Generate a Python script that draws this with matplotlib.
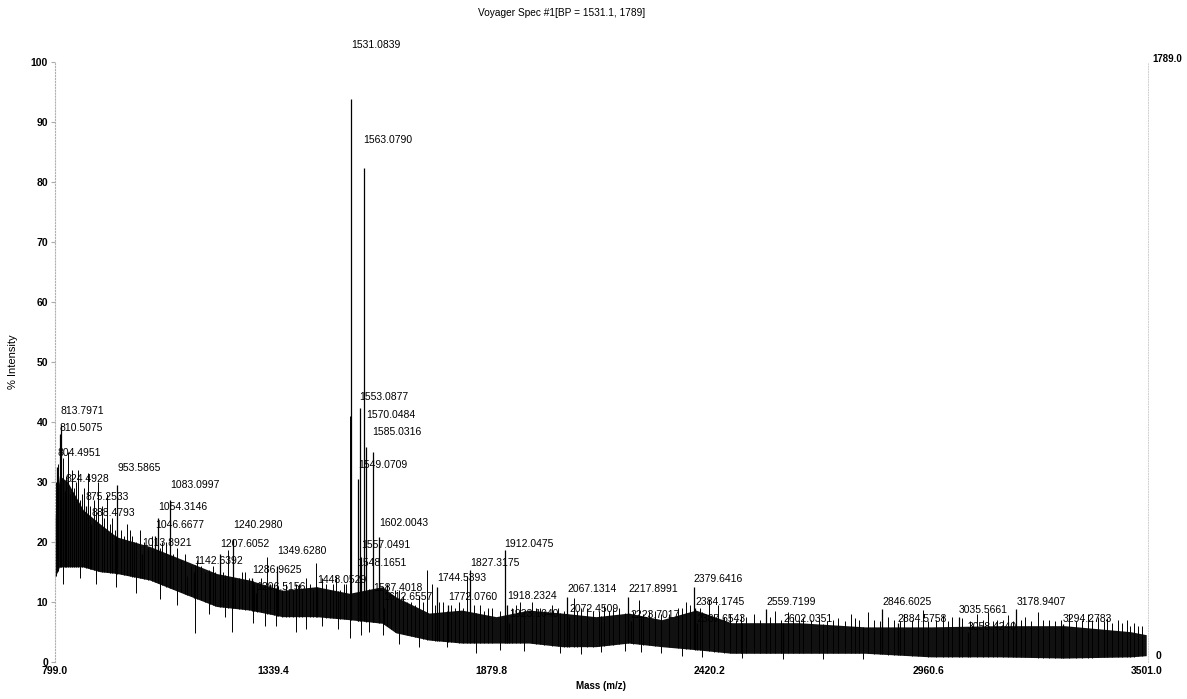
import numpy as np
import matplotlib.pyplot as plt

plt.rcParams['font.family'] = ['Liberation Sans Narrow', 'Liberation Sans', 'DejaVu Sans']

# labelled peaks: m/z, % intensity
peak_mz = [804.4951, 810.5075, 813.7971, 824.4928, 875.2533, 888.4793, 953.5865,
           1013.8921, 1046.6677, 1054.3146, 1083.0997, 1142.6392, 1207.6052,
           1240.2980, 1286.9625, 1296.5156, 1349.6280, 1448.0529, 1531.0839,
           1548.1651, 1549.0709, 1553.0877, 1557.0491, 1563.0790, 1570.0484,
           1585.0316, 1587.4018, 1602.0043, 1612.6557, 1744.5393, 1772.0760,
           1827.3175, 1912.0475, 1918.2324, 1923.1040, 2067.1314, 2072.4509,
           2217.8991, 2223.7017, 2379.6416, 2384.1745, 2387.6543, 2559.7199,
           2602.0351, 2846.6025, 2884.5758, 3035.5661, 3058.4240, 3178.9407,
           3294.2783]
peak_int = [32.5, 38.0, 39.5, 28.5, 26.0, 23.0, 29.5,
            18.0, 21.0, 24.0, 27.0, 15.0, 18.0,
            20.5, 14.0, 11.5, 16.0, 12.5, 93.8,
            14.5, 30.5, 42.3, 17.5, 82.3, 35.8,
            34.9, 10.5, 20.8, 9.0, 12.5, 9.5,
            15.3, 18.6, 9.5, 6.5, 10.8, 7.5,
            10.8, 6.8, 12.5, 9.0, 6.5, 8.8,
            6.3, 8.8, 6.4, 7.5, 5.0, 8.8,
            6.3]
# height of each peak label (stacked where peaks crowd)
label_y = [34.8, 39.0, 41.8, 30.5, 27.5, 24.8, 32.3,
           19.8, 22.7, 25.7, 29.4, 16.8, 19.6,
           22.7, 15.3, 12.5, 18.5, 13.6, 102.8,
           16.4, 32.8, 44.1, 19.5, 86.9, 41.1,
           38.3, 12.3, 23.1, 10.8, 13.9, 10.8,
           16.4, 19.6, 10.95, 7.9, 12.1, 8.8,
           12.1, 7.8, 13.8, 9.95, 7.1, 9.95,
           7.1, 9.95, 7.1, 8.6, 5.8, 9.95,
           7.1]

# unlabelled spikes above the noise
spike_mz = [801, 806, 819, 827, 831, 835, 840, 845, 850, 856, 860, 865, 872, 880,
            885, 895, 900, 905, 915, 920, 927, 935, 940, 948, 962, 970, 977, 985,
            990, 995, 1000, 1009, 1020, 1030, 1040, 1060, 1065, 1075, 1090, 1100,
            1110, 1120, 1125, 1135, 1150, 1160, 1170, 1182, 1190, 1195, 1215, 1227,
            1245, 1255, 1262, 1270, 1280, 1292, 1300, 1310, 1325, 1332, 1340, 1352,
            1360, 1370, 1379, 1387, 1395, 1402, 1410, 1420, 1430, 1438, 1446, 1460,
            1470, 1480, 1488, 1495, 1505, 1515, 1520, 1529.5, 1620, 1630, 1640, 1650,
            1660, 1670, 1680, 1690, 1700, 1710, 1720, 1733, 1740, 1750, 1760, 1780,
            1790, 1800, 1810, 1819, 1835, 1850, 1860, 1870, 1880, 1900, 1930, 1940,
            1950, 1980, 1990, 2000, 2010, 2030, 2045, 2060, 2083, 2090, 2100, 2115,
            2130, 2145, 2157, 2170, 2180, 2195, 2230, 2244, 2255, 2270, 2285, 2300,
            2320, 2340, 2350, 2360, 2370, 2395, 2417, 2430, 2440, 2455, 2470, 2485,
            2496, 2510, 2530, 2545, 2570, 2580, 2595, 2614, 2625, 2640, 2650, 2670,
            2690, 2710, 2725, 2738, 2755, 2770, 2780, 2790, 2812, 2825, 2840, 2860,
            2875, 2890, 2900, 2920, 2935, 2948, 2960, 2980, 2997, 3010, 3020, 3045,
            3065, 3080, 3095, 3108, 3120, 3130, 3145, 3158, 3170, 3190, 3200, 3215,
            3232, 3245, 3260, 3275, 3290, 3310, 3325, 3340, 3355, 3365, 3380, 3395,
            3404, 3415, 3430, 3440, 3453, 3460, 3470, 3480, 3490]
spike_int = [30, 33, 34, 31, 35, 28, 32, 29, 30, 32, 27, 28, 29, 31.4,
             26, 27, 25, 30, 26, 24, 28, 23, 24, 22, 22, 21, 23, 22,
             21, 20, 20, 22, 20, 19, 21, 19, 20, 20, 18, 19,
             17, 18, 14.2, 16, 17, 16, 15, 14.7, 16, 15, 15, 18.6,
             14, 14, 15, 15, 14, 13, 13, 14, 17.5, 13, 13, 12.5,
             12, 13, 12, 12, 13, 13, 12, 14, 13, 12, 16.5, 14,
             13, 12, 13, 14.2, 12, 13, 13, 41, 13, 11, 12, 12,
             11, 10, 10, 9.5, 11, 10, 15.3, 13, 9.5, 10, 10, 9.5,
             9, 10, 9, 14.2, 9.5, 9.5, 8.5, 9, 9, 8.5, 9, 9.5,
             10, 10, 9, 9, 8.5, 9.5, 9, 8.5, 10.6, 8.5, 9, 9,
             8.5, 8.5, 9.4, 8.5, 9, 9, 8.5, 10.3, 8, 8.5, 8.5, 8,
             8, 9, 9, 10, 9.5, 9, 10.5, 8, 9.5, 7.5, 8, 7,
             7.8, 7.5, 8, 7, 7.5, 8.5, 7, 8.3, 7.5, 7, 7.5, 7,
             7.5, 6.8, 7, 7.3, 6.8, 8, 7.2, 7, 8.3, 7, 6.8, 7.5,
             7, 6.8, 8, 7, 7, 8.6, 6.8, 7, 7.8, 6.8, 7.5, 7.2,
             6.8, 8, 7, 8.3, 6.8, 7, 7, 7.8, 6.8, 7, 7.5, 6.8,
             8.3, 7, 7, 6.8, 7, 8, 6.8, 7, 8, 7, 7.5, 6.8,
             7.3, 6.5, 7, 6.5, 7, 6, 6.5, 6, 6]

# downward dips below the noise band
dip_mz = [820, 860, 900, 950, 1000, 1060, 1100, 1146, 1180, 1220, 1237, 1290,
          1320, 1345, 1395, 1420, 1460, 1500, 1530, 1556, 1576, 1610, 1650, 1700,
          1770, 1840, 1900, 1960, 2050, 2100, 2150, 2210, 2250, 2300, 2350, 2400,
          2500, 2600, 2700, 2800]
dip_int = [13, 14, 13, 12.5, 11.5, 10.5, 9.5, 4.8, 8, 7.5, 5.0, 6.5,
           6, 6.0, 5.0, 5.5, 6, 5.5, 4.0, 4.5, 5.0, 4.5, 3, 2.5,
           2.5, 1.5, 2, 1.8, 1.5, 1.3, 1.6, 1.8, 1.6, 1.4, 1, 0.8,
           0.6, 0.5, 0.5, 0.5]

# upper / lower edge of the dense noise band
env_mz = [799, 810, 830, 869, 910, 952, 1034, 1115, 1199, 1281, 1362, 1446, 1528,
          1609, 1643, 1725, 1806, 1891, 1972, 2054, 2138, 2219, 2301, 2385, 2473,
          2639, 2804, 2967, 3133, 3298, 3461, 3500]
env_hi = [24, 31, 30, 25.3, 23, 20.8, 19.2, 17, 14.7, 13.6, 11.9, 12.5, 11.4,
          12.5, 10.8, 8.1, 8.6, 7.5, 8.6, 8.1, 7.5, 8.1, 7, 8.6, 6.5,
          6.5, 5.8, 5.8, 6, 6, 5, 4.5]
env_lo = [14, 15.8, 15.8, 15.8, 15, 14.7, 13.6, 11.4, 9.2, 8.6, 7.5, 7.5, 7,
          6.4, 4.8, 3.6, 3.1, 3.1, 3.1, 2.5, 2.5, 3.1, 2.5, 2, 1.4,
          1.4, 1.4, 0.8, 0.8, 0.6, 0.8, 1]

xticks = [799.0, 1339.4, 1879.8, 2420.2, 2960.6, 3501.0]
yticks = [0, 10, 20, 30, 40, 50, 60, 70, 80, 90, 100]

fig = plt.figure(figsize=(11.87, 6.99), dpi=100)
ax = fig.add_axes([0.0463, 0.0534, 0.9207, 0.8583])

ax.fill_between(env_mz, env_lo, env_hi, color='#111111', lw=0)
base_s = np.interp(spike_mz, env_mz, env_lo)
ax.vlines(spike_mz, base_s, spike_int, color='black', lw=0.7)
top_d = np.interp(dip_mz, env_mz, env_hi)
ax.vlines(dip_mz, dip_int, top_d, color='black', lw=0.7)
base_p = np.interp(peak_mz, env_mz, env_lo)
ax.vlines(peak_mz, base_p, peak_int, color='black', lw=0.9)

for mz, ly in zip(peak_mz, label_y):
    ax.text(mz, ly, f"{mz:.4f}", fontsize=7.5, ha='left', va='center', clip_on=False)

ax.set_xlim(799, 3504)
ax.set_ylim(0, 100)
ax.set_xticks(xticks)
ax.set_xticklabels([f"{v:.1f}" for v in xticks], fontsize=7.5, fontweight='bold')
ax.set_yticks(yticks)
ax.set_yticklabels([str(v) for v in yticks], fontsize=7.5, fontweight='bold')
ax.tick_params(axis='y', length=3, color='#aaaaaa', pad=2)
ax.tick_params(axis='x', length=0, pad=3)

for s in ['top', 'bottom']:
    ax.spines[s].set_visible(False)
ax.spines['left'].set_linestyle(':')
ax.spines['left'].set_color('#b0b0b0')
ax.spines['left'].set_linewidth(0.8)
ax.spines['right'].set_linestyle(':')
ax.spines['right'].set_color('#d0d0d0')
ax.spines['right'].set_linewidth(0.7)

ax.text(1.004, 1.005, "1789.0", transform=ax.transAxes, fontsize=7,
        fontweight='bold', ha='left', va='center')
ax.text(1.007, 0.01, "0", transform=ax.transAxes, fontsize=7.5,
        fontweight='bold', ha='left', va='center')

ax.set_xlabel("Mass (m/z)", fontsize=7, fontweight='bold', labelpad=4)
ax.set_ylabel("% Intensity", fontsize=8, labelpad=9)
fig.text(0.473, 0.982, "Voyager Spec #1[BP = 1531.1, 1789]", fontsize=7.3,
         ha='center', va='center')

fig.savefig("out.png", dpi=100)
